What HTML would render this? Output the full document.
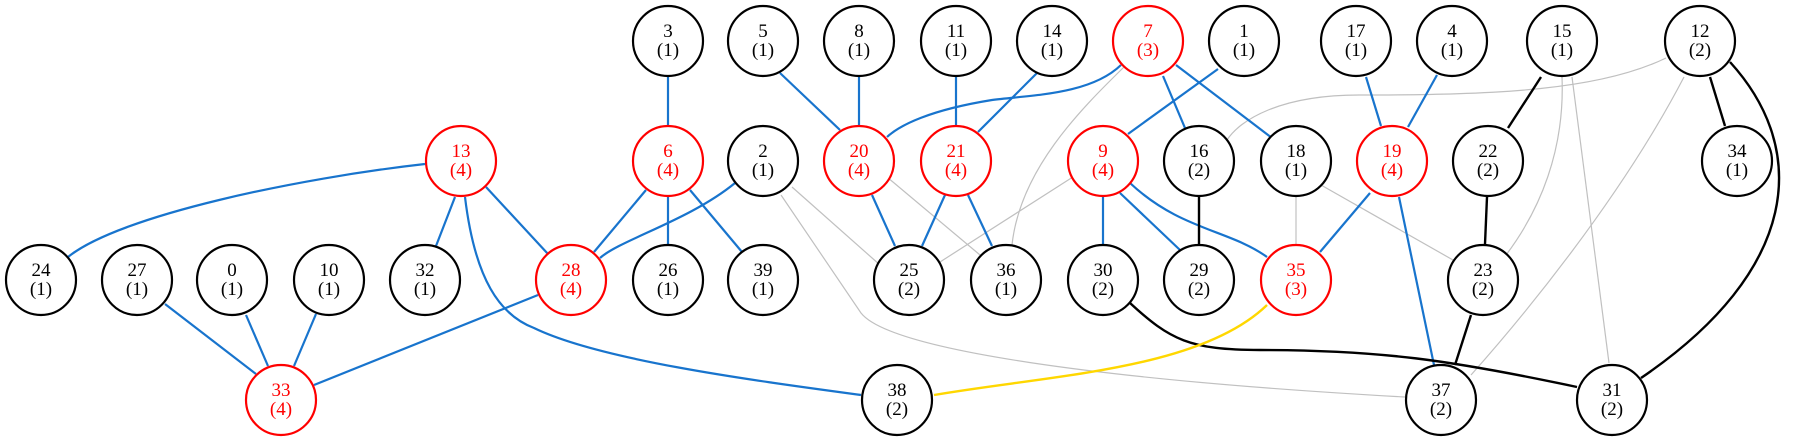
<!DOCTYPE html>
<html><head><meta charset="utf-8"><style>
html,body{margin:0;padding:0;background:#fff;}
svg{display:block;}
text{font-family:"Liberation Serif",serif;font-size:19px;text-anchor:middle;}
</style></head><body>
<svg width="1797" height="441" viewBox="0 0 1797 441" xmlns="http://www.w3.org/2000/svg">
<g fill="none" stroke="#c0c0c0" stroke-width="1.2">
<path d="M792,187 L880,265"/>
<path d="M781,195 L861,313 C890,350 1100,380 1405,397"/>
<path d="M887,177 L980,255"/>
<path d="M1124,67 C1080,110 1020,170 1012,245"/>
<path d="M1076,175 L940,262"/>
<path d="M1666,58 C1600,90 1500,95 1359,95 C1280,95 1240,120 1227,140"/>
<path d="M1562,77 C1565,150 1540,210 1506,255"/>
<path d="M1572,77 L1609,363"/>
<path d="M1684,77 C1620,200 1520,320 1471,375"/>
<path d="M1296,197 L1296,244"/>
<path d="M1321,185 L1453,260"/>
</g>
<g fill="none" stroke="#1874CD" stroke-width="2.2">
<path d="M668,77 L668,125"/>
<path d="M780,73 L840,130"/>
<path d="M859,77 L859,125"/>
<path d="M425,164 C300,178 120,215 68,257"/>
<path d="M455,197 L436,246"/>
<path d="M486,187 L548,254"/>
<path d="M465,197 C475,280 500,315 534,328 C600,360 750,380 861,395"/>
<path d="M646,190 L594,252"/>
<path d="M668,197 L668,244"/>
<path d="M690,190 L742,252"/>
<path d="M735,183 C690,220 620,240 600,258"/>
<path d="M538,295 L314,385"/>
<path d="M165,304 L256,374"/>
<path d="M246,315 L268,366"/>
<path d="M316,314 L294,366"/>
<path d="M872,195 L895,246"/>
<path d="M1121,65 C1090,95 1030,95 992,100 C930,110 900,125 887,137"/>
<path d="M956,77 L956,125"/>
<path d="M1037,73 L978,132"/>
<path d="M945,195 L922,246"/>
<path d="M968,195 L992,246"/>
<path d="M1218,69 L1128,134"/>
<path d="M1163,76 L1185,128"/>
<path d="M1176,65 L1272,138"/>
<path d="M1103,197 L1103,244"/>
<path d="M1120,193 L1180,250"/>
<path d="M1130,183 C1180,230 1230,230 1267,257"/>
<path d="M1366,77 L1381,126"/>
<path d="M1437,75 L1408,127"/>
<path d="M1370,193 L1320,252"/>
<path d="M1399,197 L1434,365"/>
</g>
<g fill="none" stroke="#000" stroke-width="2.4">
<path d="M1199,197 L1199,244"/>
<path d="M1541,77 L1508,128"/>
<path d="M1487,197 L1485,244"/>
<path d="M1471,315 L1455,365"/>
<path d="M1710,77 L1725,126"/>
<path d="M1730,62 C1810,150 1800,270 1641,378"/>
<path d="M1130,303 C1170,340 1190,350 1260,350 C1380,350 1450,360 1577,387"/>
</g>
<path d="M1267,305 C1200,370 1050,375 934,395" fill="none" stroke="#FFD700" stroke-width="2.4"/>
<g stroke-width="2.2" fill="#fff">
<g stroke="#000">
<circle cx="668" cy="41" r="35"/><circle cx="763" cy="41" r="35"/><circle cx="859" cy="41" r="35"/>
<circle cx="956" cy="41" r="35"/><circle cx="1052" cy="41" r="35"/><circle cx="1244" cy="41" r="35"/>
<circle cx="1356" cy="41" r="35"/><circle cx="1452" cy="41" r="35"/><circle cx="1562" cy="41" r="35"/><circle cx="1700" cy="41" r="35"/>
<circle cx="763" cy="161" r="35"/><circle cx="1199" cy="161" r="35"/><circle cx="1296" cy="161" r="35"/><circle cx="1488" cy="161" r="35"/><circle cx="1737" cy="161" r="35"/>
<circle cx="41" cy="280" r="35"/><circle cx="137" cy="280" r="35"/><circle cx="232" cy="280" r="35"/><circle cx="329" cy="280" r="35"/><circle cx="425" cy="280" r="35"/>
<circle cx="668" cy="280" r="35"/><circle cx="763" cy="280" r="35"/><circle cx="909" cy="280" r="35"/><circle cx="1006" cy="280" r="35"/><circle cx="1103" cy="280" r="35"/><circle cx="1199" cy="280" r="35"/><circle cx="1483" cy="280" r="35"/>
<circle cx="897" cy="400" r="35"/><circle cx="1441" cy="400" r="35"/><circle cx="1612" cy="400" r="35"/>
</g>
<g stroke="#f00">
<circle cx="1148" cy="41" r="35"/><circle cx="461" cy="161" r="35"/><circle cx="668" cy="161" r="35"/><circle cx="859" cy="161" r="35"/>
<circle cx="956" cy="161" r="35"/><circle cx="1103" cy="161" r="35"/><circle cx="1392" cy="161" r="35"/>
<circle cx="571" cy="280" r="35"/><circle cx="1296" cy="280" r="35"/><circle cx="281" cy="400" r="35"/>
</g>
</g>
<g fill="#000">
<text x="668" y="37">3</text><text x="668" y="56">(1)</text>
<text x="763" y="37">5</text><text x="763" y="56">(1)</text>
<text x="859" y="37">8</text><text x="859" y="56">(1)</text>
<text x="956" y="37">11</text><text x="956" y="56">(1)</text>
<text x="1052" y="37">14</text><text x="1052" y="56">(1)</text>
<text x="1244" y="37">1</text><text x="1244" y="56">(1)</text>
<text x="1356" y="37">17</text><text x="1356" y="56">(1)</text>
<text x="1452" y="37">4</text><text x="1452" y="56">(1)</text>
<text x="1562" y="37">15</text><text x="1562" y="56">(1)</text>
<text x="1700" y="37">12</text><text x="1700" y="56">(2)</text>
<text x="763" y="157">2</text><text x="763" y="176">(1)</text>
<text x="1199" y="157">16</text><text x="1199" y="176">(2)</text>
<text x="1296" y="157">18</text><text x="1296" y="176">(1)</text>
<text x="1488" y="157">22</text><text x="1488" y="176">(2)</text>
<text x="1737" y="157">34</text><text x="1737" y="176">(1)</text>
<text x="41" y="276">24</text><text x="41" y="295">(1)</text>
<text x="137" y="276">27</text><text x="137" y="295">(1)</text>
<text x="232" y="276">0</text><text x="232" y="295">(1)</text>
<text x="329" y="276">10</text><text x="329" y="295">(1)</text>
<text x="425" y="276">32</text><text x="425" y="295">(1)</text>
<text x="668" y="276">26</text><text x="668" y="295">(1)</text>
<text x="763" y="276">39</text><text x="763" y="295">(1)</text>
<text x="909" y="276">25</text><text x="909" y="295">(2)</text>
<text x="1006" y="276">36</text><text x="1006" y="295">(1)</text>
<text x="1103" y="276">30</text><text x="1103" y="295">(2)</text>
<text x="1199" y="276">29</text><text x="1199" y="295">(2)</text>
<text x="1483" y="276">23</text><text x="1483" y="295">(2)</text>
<text x="897" y="396">38</text><text x="897" y="415">(2)</text>
<text x="1441" y="396">37</text><text x="1441" y="415">(2)</text>
<text x="1612" y="396">31</text><text x="1612" y="415">(2)</text>
</g>
<g fill="#f00">
<text x="1148" y="37">7</text><text x="1148" y="56">(3)</text>
<text x="461" y="157">13</text><text x="461" y="176">(4)</text>
<text x="668" y="157">6</text><text x="668" y="176">(4)</text>
<text x="859" y="157">20</text><text x="859" y="176">(4)</text>
<text x="956" y="157">21</text><text x="956" y="176">(4)</text>
<text x="1103" y="157">9</text><text x="1103" y="176">(4)</text>
<text x="1392" y="157">19</text><text x="1392" y="176">(4)</text>
<text x="571" y="276">28</text><text x="571" y="295">(4)</text>
<text x="1296" y="276">35</text><text x="1296" y="295">(3)</text>
<text x="281" y="396">33</text><text x="281" y="415">(4)</text>
</g>
</svg>
</body></html>
